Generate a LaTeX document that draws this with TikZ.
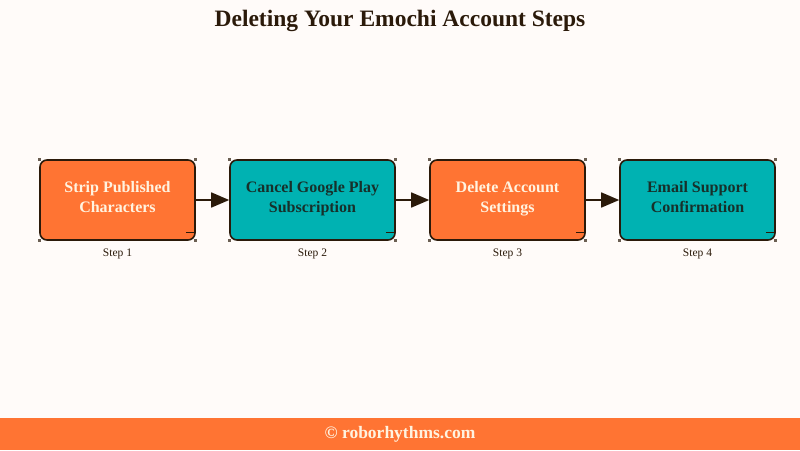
\documentclass[tikz,border=0pt]{standalone}
\usepackage{fontspec}
\setmainfont{Liberation Serif}
\usetikzlibrary{arrows.meta}
\definecolor{bg}{HTML}{FFFBF9}
\definecolor{ink}{HTML}{2B1A0A}
\definecolor{orng}{HTML}{FF7433}
\definecolor{teal}{HTML}{00B2B2}
\definecolor{cream}{HTML}{FFF3E0}
\definecolor{darktxt}{HTML}{17302A}
\tikzset{
  stepbox/.style={draw=ink, line width=1.6pt, rounded corners=7pt, minimum width=155pt, minimum height=80pt, align=center, font=\bfseries\fontsize{16}{20}\selectfont, inner sep=0pt, execute at begin node=\strut, execute at end node=\strut},
  orbox/.style={stepbox, fill=orng, text=cream},
  tlbox/.style={stepbox, fill=teal, text=darktxt},
  steplbl/.style={font=\fontsize{11.5}{13}\selectfont, text=ink},
  conn/.style={draw=ink, line width=1.6pt, -{Triangle[length=18pt,width=15pt]}}
}
\begin{document}
\begin{tikzpicture}[x=1pt,y=-1pt]
\fill[bg] (0,0) rectangle (800,450);
\useasboundingbox (0,0) rectangle (800,450);
\node[font=\bfseries\fontsize{23.5}{26}\selectfont, text=ink] (title) at (400,21) {Deleting Your Emochi Account Steps};
\node[orbox] (s1) at (117.5,200) {Strip Published\\Characters};
\node[tlbox, minimum width=165pt] (s2) at (312.5,200) {Cancel Google Play\\Subscription};
\node[orbox] (s3) at (507.5,200) {Delete Account\\Settings};
\node[tlbox] (s4) at (697.5,200) {Email Support\\Confirmation};
\foreach \n in {s1,s2,s3,s4}{
  \draw[ink, line width=0.8pt] ([xshift=-10pt,yshift=8pt]\n.south east) -- ([xshift=-1pt,yshift=8pt]\n.south east);
  \foreach \a in {north east,north west,south east,south west}{
    \fill[ink!70] ([xshift=-1.5pt,yshift=1.5pt]\n.\a) rectangle ++(3pt,-3pt);
  }
}
\node[steplbl] (l1) at (117.5,254) {Step 1};
\node[steplbl] (l2) at (312.5,254) {Step 2};
\node[steplbl] (l3) at (507.5,254) {Step 3};
\node[steplbl] (l4) at (697.5,254) {Step 4};
\draw[conn] (s1.east) -- (s2.west);
\draw[conn] (s2.east) -- (s3.west);
\draw[conn] (s3.east) -- (s4.west);
\fill[orng] (0,418) rectangle (800,450);
\node[font=\bfseries\fontsize{17.5}{20}\selectfont, text=cream] (foot) at (400,434) {© roborhythms.com};
\end{tikzpicture}
\end{document}
